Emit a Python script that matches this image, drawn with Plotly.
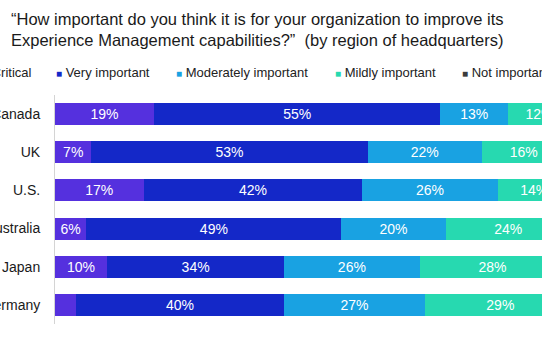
import plotly.graph_objects as go

# Survey responses by region of headquarters (percent of respondents)
regions = ["Canada", "UK", "U.S.", "Australia", "Japan", "Germany"]
critical = [19, 7, 17, 6, 10, 4]
very_important = [55, 53, 42, 49, 34, 40]
moderately_important = [13, 22, 26, 20, 26, 27]
mildly_important = [12, 16, 14, 24, 28, 29]
not_important = [1, 2, 1, 1, 2, 0]

series = [
    ("Critical", critical, "#5530de"),
    ("Very important", very_important, "#1428c8"),
    ("Moderately important", moderately_important, "#19a2e2"),
    ("Mildly important", mildly_important, "#27d9b0"),
    ("Not important", not_important, "#3c3c3c"),
]

FONT = "Liberation Sans, Arial, Helvetica, sans-serif"
PLOT_LEFT, PLOT_TOP, PLOT_W, PLOT_H = 55, 95, 487, 229


def px_to_paper_x(px):
    return (px - PLOT_LEFT) / PLOT_W


def px_to_paper_y(py):
    return 1 + (PLOT_TOP - py) / PLOT_H


fig = go.Figure()
for name, values, color in series:
    fig.add_trace(go.Bar(
        y=regions,
        x=values,
        name=name,
        orientation="h",
        marker=dict(color=color, line=dict(width=0)),
        text=[f"{v}%" if v >= 5 else "" for v in values],
        textposition="inside",
        insidetextanchor="middle",
        textangle=0,
        textfont=dict(family=FONT, size=14, color="white"),
        showlegend=False,
        hoverinfo="skip",
    ))

# Legend row drawn as text entries with coloured square markers
legend_x_px = [-20, 54, 174, 333, 460]
for (name, _, color), px in zip(series, legend_x_px):
    fig.add_annotation(
        x=px_to_paper_x(px), y=px_to_paper_y(72),
        xref="paper", yref="paper",
        xanchor="left", yanchor="middle",
        text=f"<span style='color:{color};font-size:10px'>■</span> {name}",
        showarrow=False,
        font=dict(family=FONT, size=13, color="#222222"),
    )

# Two-line chart title
fig.add_annotation(
    x=px_to_paper_x(257), y=px_to_paper_y(8),
    xref="paper", yref="paper",
    xanchor="center", yanchor="top", align="center",
    text="“How important do you think it is for your organization to improve its<br>"
         "Experience Management capabilities?”\u00a0\u00a0(by region of headquarters)",
    showarrow=False,
    font=dict(family=FONT, size=16.5, color="#1a1a1a"),
)

fig.update_layout(
    width=542, height=340,
    margin=dict(l=PLOT_LEFT, r=542 - PLOT_LEFT - PLOT_W, t=PLOT_TOP, b=340 - PLOT_TOP - PLOT_H),
    paper_bgcolor="white", plot_bgcolor="white",
    barmode="stack",
    bargap=0.42,
    xaxis=dict(range=[0, 93.5], visible=False, fixedrange=True),
    yaxis=dict(
        categoryorder="array", categoryarray=regions, autorange="reversed",
        automargin=False,
        showline=True, linecolor="#d4d4d4", linewidth=1,
        showgrid=False, zeroline=False, ticks="",
        ticklabelstandoff=11,
        tickfont=dict(family=FONT, size=14, color="#1a1a1a"),
    ),
)

fig.write_html("out.html")
